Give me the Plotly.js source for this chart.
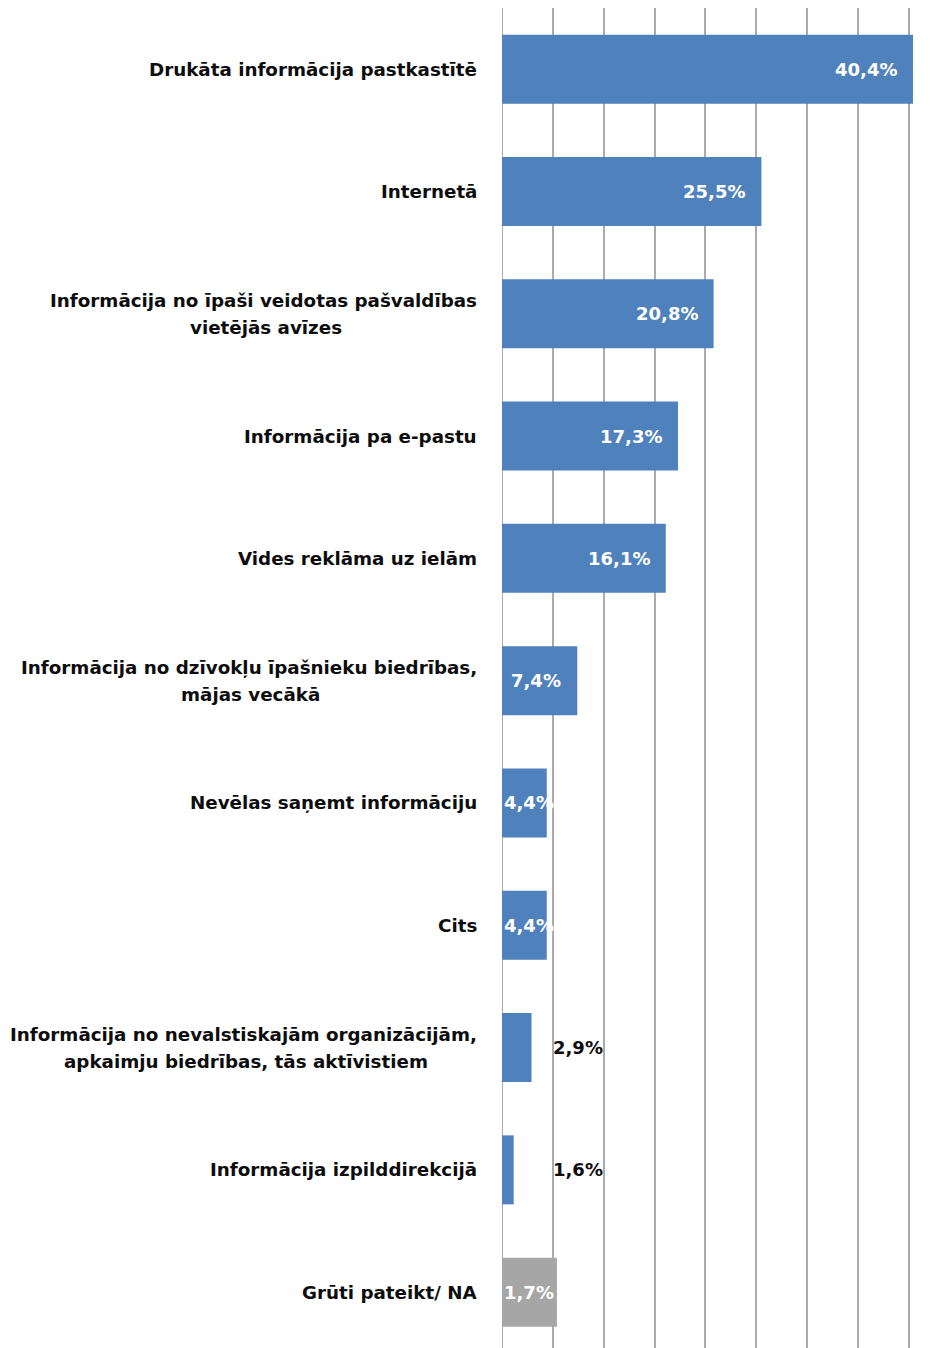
<!DOCTYPE html>
<html>
<head>
<meta charset="utf-8">
<script src="https://cdn.plot.ly/plotly-3.0.1.min.js"></script>
<style>html,body{margin:0;padding:0;background:#fff;}#chart{width:948px;height:1348px;}</style>
</head>
<body>
<div id="chart"></div>
<script>
// ---- data ----
const categories = [
  "Drukāta informācija pastkastītē",
  "Internetā",
  "Informācija no īpaši veidotas pašvaldības<br>vietējās avīzes",
  "Informācija pa e-pastu",
  "Vides reklāma uz ielām",
  "Informācija no dzīvokļu īpašnieku biedrības,<br>mājas vecākā",
  "Nevēlas saņemt informāciju",
  "Cits",
  "Informācija no nevalstiskajām organizācijām,<br>apkaimju biedrības, tās aktīvistiem",
  "Informācija izpilddirekcijā",
  "Grūti pateikt/ NA"
];
// bar lengths as drawn (percent)
const values = [40.4, 25.5, 20.8, 17.3, 16.1, 7.4, 4.4, 4.4, 2.9, 1.15, 5.4];
// value labels as printed
const valueLabels = ["40,4%", "25,5%", "20,8%", "17,3%", "16,1%", "7,4%", "4,4%", "4,4%", "2,9%", "1,6%", "1,7%"];
const labelPlacement = ["inside","inside","inside","inside","inside","inside","inside","inside","outside","outside","inside"];
const barGroup = ["main","main","main","main","main","main","main","main","main","main","na"];
const xTicks = [0, 5, 10, 15, 20, 25, 30, 35, 40];

// ---- styles ----
const BLUE = "#4f81bd", GREY = "#a6a6a6", GRID = "#aaaaaa";
const FONT = "DejaVu Sans, Verdana, sans-serif";
const FS = 18.3, VFS = 18;
const W = 948, H = 1348;
const ML = 502, MR = 34, MT = 8, MB = 0;
const XMAX = 40.5;
const pxPerUnit = (W - ML - MR) / XMAX;
const CAT_STEP_PX = 122.3;
const yBottom = -0.5 + (H - MT - MB) / CAT_STEP_PX;
const LABEL_GAP = 23, LINE_HALF = 13.5, PAD = 14;

const cv = document.createElement("canvas").getContext("2d");
const textW = (s, size) => { cv.font = "bold " + size + "px 'DejaVu Sans'"; return cv.measureText(s).width; };

const colors = barGroup.map(g => g === "na" ? GREY : BLUE);

const trace = {
  type: "bar",
  orientation: "h",
  x: values,
  y: categories.map((c, i) => i),
  marker: { color: colors, line: { width: 0 } },
  hoverinfo: "skip"
};

const catFont = { family: FONT, size: FS, color: "#0d0d0d" };
const annotations = [];
categories.forEach((c, i) => {
  const lines = c.split("<br>");
  if (lines.length === 1) {
    annotations.push({
      xref: "paper", yref: "y", x: 0, y: i,
      xanchor: "right", yanchor: "middle", xshift: -LABEL_GAP,
      text: "<b>" + c + "</b>", showarrow: false, font: catFont
    });
  } else {
    const w1 = textW(lines[0], FS);
    annotations.push({
      xref: "paper", yref: "y", x: 0, y: i,
      xanchor: "right", yanchor: "middle", xshift: -LABEL_GAP, yshift: LINE_HALF,
      text: "<b>" + lines[0] + "</b>", showarrow: false, font: catFont
    });
    annotations.push({
      xref: "paper", yref: "y", x: 0, y: i,
      xanchor: "center", yanchor: "middle", xshift: -LABEL_GAP - w1 / 2, yshift: -LINE_HALF,
      text: "<b>" + lines[1] + "</b>", showarrow: false, font: catFont
    });
  }
});
valueLabels.forEach((t, i) => {
  const v = values[i];
  let a = { xref: "x", yref: "y", y: i, yanchor: "middle", showarrow: false,
            text: "<b>" + t + "</b>" };
  if (labelPlacement[i] === "inside") {
    const barPx = v * pxPerUnit;
    if (barPx >= textW(t, VFS) + PAD) {
      Object.assign(a, { x: v, xanchor: "right", xshift: -PAD });
    } else {
      Object.assign(a, { x: 0, xanchor: "left", xshift: 0 });
    }
    a.font = { family: FONT, size: VFS, color: "#ffffff" };
  } else {
    Object.assign(a, { x: xTicks[1], xanchor: "left", xshift: -2 });
    a.font = { family: FONT, size: VFS, color: "#0d0d0d" };
  }
  annotations.push(a);
});

const layout = {
  width: W, height: H,
  margin: { l: ML, r: MR, t: MT, b: MB, pad: 0 },
  paper_bgcolor: "#ffffff", plot_bgcolor: "#ffffff",
  showlegend: false,
  bargap: 0.436,
  xaxis: {
    range: [0, XMAX], tickvals: xTicks, showticklabels: false,
    showgrid: true, gridcolor: GRID, gridwidth: 2,
    zeroline: false, showline: false, ticks: "", fixedrange: true
  },
  yaxis: {
    range: [yBottom, -0.5], showticklabels: false, showgrid: false,
    zeroline: false, showline: false, ticks: "", fixedrange: true
  },
  shapes: [{
    type: "line", xref: "x", yref: "paper", x0: 0, x1: 0, y0: 0, y1: 1,
    line: { color: GRID, width: 2 }, layer: "below"
  }],
  annotations: annotations
};

Plotly.newPlot("chart", [trace], layout, { staticPlot: true, displayModeBar: false });
</script>
</body>
</html>
